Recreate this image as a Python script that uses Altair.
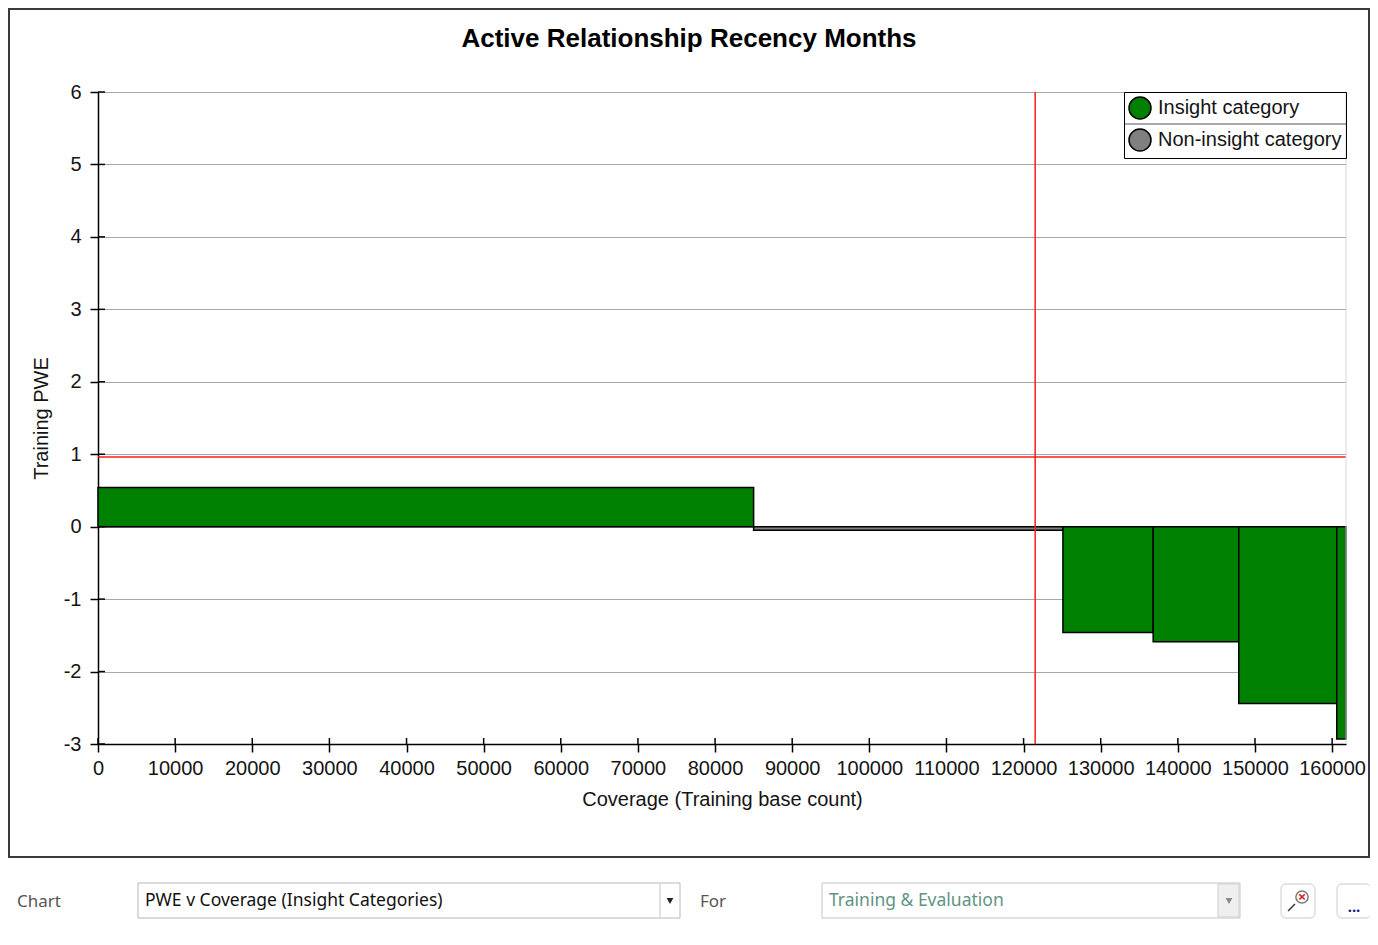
import altair as alt
import pandas as pd

# ---------------- data ----------------
categories = ["Insight category", "Non-insight category"]
bar_start = [0, 85000, 125100, 136800, 147900, 160600]
bar_end = [85000, 125100, 136800, 147900, 160600, 161800]
bar_pwe = [0.54, -0.05, -1.46, -1.59, -2.44, -2.93]
bar_cat = ["Insight category", "Non-insight category", "Insight category",
           "Insight category", "Insight category", "Insight category"]
cutoff_coverage = [121500]
threshold_pwe = [0.96]
x_tick_values = [0, 10000, 20000, 30000, 40000, 50000, 60000, 70000, 80000,
                 90000, 100000, 110000, 120000, 130000, 140000, 150000, 160000]
y_tick_values = [-3, -2, -1, 0, 1, 2, 3, 4, 5, 6]

bars_df = pd.DataFrame({"start": bar_start, "end": bar_end, "pwe": bar_pwe, "cat": bar_cat})
vline_df = pd.DataFrame({"start": cutoff_coverage})
hline_df = pd.DataFrame({"pwe": threshold_pwe})
xt_df = pd.DataFrame({"start": x_tick_values})
yt_df = pd.DataFrame({"pwe": y_tick_values})
one = pd.DataFrame({"k": [1]})

W, H = 1248, 652
FONT = "Liberation Sans"
UI = "Noto Sans"

xscale = alt.Scale(domain=[0, 161800], nice=False, zero=False)
yscale = alt.Scale(domain=[-3, 6], nice=False, zero=False)

xaxis = alt.Axis(values=x_tick_values, labelExpr="'' + datum.value",
                 title="Coverage (Training base count)",
                 grid=False, domainColor="black", domainWidth=1.5, tickColor="black",
                 tickWidth=1.5, tickSize=8, labelFont=FONT, labelFontSize=20,
                 labelColor="#141414", labelPadding=6, labelOverlap=False, labelFlush=False,
                 titleFont=FONT, titleFontSize=20, titleFontWeight="normal",
                 titleColor="#141414", titleY=55, titleBaseline="middle")
yaxis = alt.Axis(values=y_tick_values, labelExpr="'' + datum.value",
                 title="Training PWE", grid=True, gridColor="#a8a8a8",
                 gridWidth=1, domainColor="black", domainWidth=1.5, tickColor="black",
                 tickWidth=1.5, tickSize=8, labelFont=FONT, labelFontSize=20,
                 labelColor="#141414", labelPadding=9, labelOverlap=False, labelFlush=False,
                 titleFont=FONT, titleFontSize=20, titleFontWeight="normal",
                 titleColor="#141414", titleX=-57, titleY=326, titleAngle=270,
                 titleBaseline="middle", titleAlign="center")

legend = alt.Legend(title=None, orient="top-right", offset=0, strokeColor="black",
                    padding=4, symbolType="circle", symbolSize=484,
                    symbolStrokeColor="black", symbolStrokeWidth=1.5,
                    labelFont=FONT, labelFontSize=20, labelColor="#141414",
                    labelLimit=400, rowPadding=4, labelOffset=6)

X = alt.X("start:Q", scale=xscale, axis=xaxis)
Y = alt.Y("pwe:Q", scale=yscale, axis=yaxis)

bars = alt.Chart(bars_df).mark_rect(stroke="black", strokeWidth=1.5).encode(
    x=X,
    x2="end:Q",
    y=Y,
    y2=alt.datum(0),
    color=alt.Color("cat:N", scale=alt.Scale(domain=categories, range=["#008000", "#808080"]),
                    legend=legend),
)

vline = alt.Chart(vline_df).mark_rule(color="#ff1a1a", strokeWidth=1.5).encode(x=X)
hline = alt.Chart(hline_df).mark_rule(color="#ff1a1a", strokeWidth=1.5).encode(y=Y)

xin = alt.Chart(xt_df).mark_rule(color="black", strokeWidth=1.5).encode(
    x=X, y=alt.value(H - 6), y2=alt.value(H))
yin = alt.Chart(yt_df).mark_rule(color="black", strokeWidth=1.5).encode(
    y=Y, x=alt.value(0), x2=alt.value(7))


def rule(x, y, x2, y2, color, w=1.0):
    return alt.Chart(one).mark_rule(color=color, strokeWidth=w).encode(
        x=alt.value(x), y=alt.value(y), x2=alt.value(x2), y2=alt.value(y2))


def box(x, y, x2, y2, stroke, fill="white", w=1.0, r=0):
    return alt.Chart(one).mark_rect(stroke=stroke, fill=fill, strokeWidth=w, cornerRadius=r).encode(
        x=alt.value(x), y=alt.value(y), x2=alt.value(x2), y2=alt.value(y2))


def label(text, x, y, size, color, font=UI, weight="normal", align="left"):
    return alt.Chart(one).mark_text(text=text, font=font, fontSize=size, color=color,
                                    fontWeight=weight, align=align, baseline="middle").encode(
        x=alt.value(x), y=alt.value(y))


def tri(x, y, color):
    return alt.Chart(one).mark_point(shape="triangle-down", size=45, filled=True,
                                     color=color, opacity=1).encode(x=alt.value(x), y=alt.value(y))


frame = box(-89, -83, 1271, 765, "#3a3a3a", fill="transparent", w=2)
right_edge = rule(W, 0, W, H, "#d8d8d8")
legend_sep = rule(1027, 32, W, 32, "#555555")
title = label("Active Relationship Recency Months", 591, -53, 26, "black", font=FONT,
              weight="bold", align="center")

ui = [
    label("Chart", -81, 810, 17, "#555555"),
    box(40, 791, 582, 826, "#b8b8b8"),
    rule(562, 792, 562, 825, "#c4c4c4"),
    tri(572, 809, "#222222"),
    label("PWE v Coverage (Insight Categories)", 47, 809, 17.5, "#111111"),
    label("For", 602, 810, 17, "#555555"),
    box(724, 791, 1142, 826, "#c4c4c4"),
    box(1120, 792, 1141, 825, "#cfcfcf", fill="#efefef"),
    tri(1131, 809, "#888888"),
    label("Training & Evaluation", 731, 809, 17.5, "#5f9484"),
    box(1183, 792, 1217, 826, "#cccccc", r=5),
    alt.Chart(one).mark_point(shape="circle", size=150, filled=False, color="#444444",
                              strokeWidth=1.5).encode(x=alt.value(1204), y=alt.value(805)),
    label("×", 1204, 805, 15, "#e02020", weight="bold", align="center"),
    rule(1197, 812, 1190, 819, "#333333", 1.5),
    box(1239, 792, 1273, 826, "#cccccc", r=5),
    label("...", 1256, 815, 15, "#1a1a8a", weight="bold", align="center"),
]

chart = alt.layer(
    bars, vline, hline, xin, yin, right_edge, legend_sep, title, frame, *ui
).properties(
    width=W, height=H,
    autosize=alt.AutoSizeParams(type="none"),
    padding={"left": 90, "top": 84, "right": 24, "bottom": 185},
).configure_view(stroke=None)

chart.save("out.html", embed_options={"renderer": "svg", "actions": False})
